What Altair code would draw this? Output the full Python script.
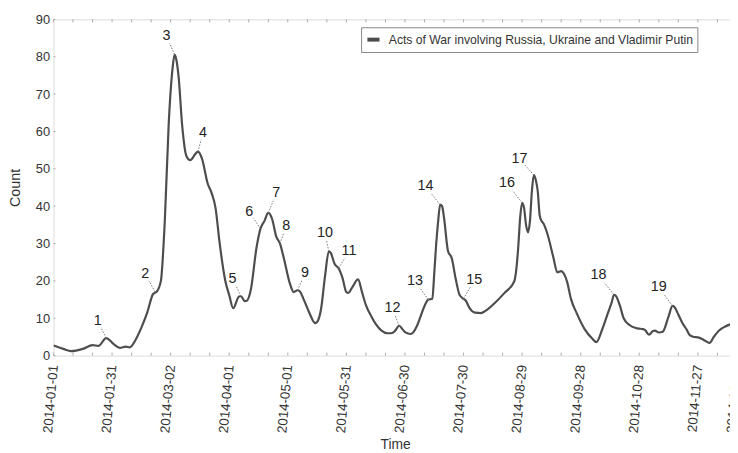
import altair as alt
import pandas as pd

# ---- data (day offsets from 2014-01-01, counts) ----
days = [0, 5, 9, 15, 20, 23, 27, 31, 34, 37, 39, 42, 45, 48, 51, 53, 55, 57, 59, 61,
        62, 63, 64, 66, 68, 70, 73, 74, 76, 79, 81, 83, 85, 88, 90, 92, 95, 96, 98, 99,
        101, 104, 106, 108, 110, 112, 114, 116, 118, 121, 123, 125, 126, 128, 131, 134, 135, 137, 139, 141,
        142, 144, 146, 148, 150, 151, 153, 156, 158, 160, 163, 165, 168, 171, 173, 175, 177, 179, 180, 183,
        186, 188, 190, 192, 194, 195, 196, 197, 198, 199, 200, 202, 204, 206, 208, 210, 211, 213, 216, 219,
        221, 226, 231, 236, 237, 238, 239, 240, 241, 242, 243, 244, 245, 246, 247, 248, 249, 250, 251, 253,
        256, 258, 260, 261, 263, 265, 268, 272, 276, 278, 281, 284, 286, 287, 288, 290, 292, 295, 299, 302,
        303, 305, 307, 308, 310, 312, 315, 317, 318, 320, 322, 324, 326, 328, 330, 333, 336, 338, 341, 344,
        348]
counts = [2.7, 1.8, 1.2, 1.8, 2.8, 2.6, 4.7, 3.0, 2.1, 2.4, 2.2, 4.2, 7.5, 11.5, 16.5, 17.2, 20, 36, 62, 77,
          80.6, 79, 75, 61, 53.5, 52.3, 54.2, 54.6, 52.8, 46, 43.5, 39.5, 30.5, 20, 16.2, 12.7, 15.8, 15.9, 14.6, 14.7,
          17.5, 29, 34, 36, 38.2, 36.5, 32, 30, 26, 19.4, 17, 17.5, 17.3, 15.2, 11.5, 8.7, 9, 12.4, 21, 27.9,
          27.5, 24.5, 23.4, 20.8, 17.0, 16.8, 18.3, 20.4, 17, 13.5, 10.3, 8.5, 6.7, 6.0, 6.0, 6.7, 8.0, 6.9, 6.3, 5.8,
          7.8, 10.5, 13.3, 15, 15.2, 22, 30, 36, 40.4, 40, 36.9, 28.1, 26, 20.5, 16.2, 15.2, 14.8, 12.8, 11.5, 11.4,
          11.9, 14.1, 16.8, 19.9, 23, 29, 37, 40.9, 39.5, 35, 33, 36, 44, 48.3, 47, 44, 37.5, 36, 35.3, 32.5,
          26.3, 22.3, 22.6, 22.2, 19.8, 15.2, 11.3, 7.1, 4.5, 3.6, 7.0, 11.5, 14.5, 16.3, 16.0, 13.5, 10, 8.2, 7.3, 7.1,
          6.8, 5.6, 6.6, 6.7, 6.2, 6.4, 10.5, 13.3, 13.0, 11, 8.8, 7.2, 5.4, 5.0, 4.9, 4.2, 3.4, 4.9, 6.8, 7.8,
          8.6]
series_name = "Acts of War involving Russia, Ukraine and Vladimir Putin"

# annotations: number, curve point (day, value), label centre (day, value)
ann_labels = [str(i) for i in range(1, 20)]
ann_point_days = [27, 52, 62, 74, 96, 106, 110, 116, 125, 141, 146, 177, 192, 198, 210, 240, 246, 287, 317]
ann_point_vals = [4.7, 17.1, 80.6, 54.6, 15.9, 34, 38.2, 30, 17.5, 27.9, 23.4, 8.0, 15, 40.4, 15.2, 40.9, 48.3, 16.3, 13.3]
ann_text_days = [22.6, 47, 57.9, 76.5, 91.7, 100.2, 114.1, 119.2, 128.8, 139, 151.3, 173.6, 185.1, 190.5, 215.5, 232.2, 238.6, 279.1, 310]
ann_text_vals = [9.3, 21.8, 85.5, 59.7, 20.6, 38.5, 43.4, 34.8, 22, 32.8, 27.9, 12.7, 19.9, 45.3, 20.2, 46.1, 52.7, 21.5, 18.3]

label_days = [0, 30, 60, 90, 120, 150, 180, 210, 240, 270, 300, 330, 350]
minor_tick_days = list(range(0, 351, 10))
y_ticks = [0, 10, 20, 30, 40, 50, 60, 70, 80, 90]

START = pd.Timestamp("2014-01-01")
END_DAY = 350
FMT = "%Y-%m-%dT%H:%M:%SZ"


def to_date(d):
    return (START + pd.Timedelta(days=d)).strftime(FMT)


def to_dt(d):
    t = START + pd.Timedelta(days=d)
    return alt.DateTime(year=t.year, month=t.month, date=t.day, utc=True)


W, H = 691, 340
FONT = "Liberation Sans"
FRAME = "#aaaaaa"
TXT = "#333333"

line_df = pd.DataFrame({"date": [to_date(d) for d in days], "count": counts, "series": series_name})

x_scale = alt.Scale(type="utc", domain=[to_dt(0), to_dt(END_DAY)])
y_scale = alt.Scale(domain=[0, 90], nice=False)

x_axis = alt.Axis(values=[to_dt(d) for d in label_days],
                  labelExpr="utcFormat(datum.value, '%Y-%m-%d')",
                  labelAngle=275, labelAlign="right", labelBaseline="middle", labelPadding=9,
                  labelFontSize=13.5, labelFont=FONT, labelColor=TXT, ticks=False, domain=False, grid=False,
                  title="Time", titleFontSize=14, titleFont=FONT, titleFontWeight="normal", titleColor=TXT,
                  titlePadding=5, labelOverlap=False, labelFlush=False)
y_axis = alt.Axis(values=y_ticks, labelFontSize=13, labelFont=FONT, labelColor=TXT, labelPadding=4,
                  labelOverlap=False, labelFlush=False,
                  ticks=False, domain=False, grid=False, title="Count", titleFontSize=14.5, titleFont=FONT,
                  titleFontWeight="normal", titleColor=TXT, titlePadding=13)

line = alt.Chart(line_df).mark_line(interpolate="monotone", strokeWidth=2.2, clip=True).encode(
    x=alt.X("date:T", scale=x_scale, axis=x_axis),
    y=alt.Y("count:Q", scale=y_scale, axis=y_axis),
    color=alt.Color("series:N", scale=alt.Scale(range=["#4d4d4d"]),
                    legend=alt.Legend(title=None, orient="none", legendX=311, legendY=8,
                                      strokeColor="#888888", fillColor="white", padding=4,
                                      symbolType="stroke", symbolStrokeWidth=4, symbolSize=150,
                                      labelOffset=7, labelFontSize=12.3, labelColor=TXT, labelLimit=500,
                                      labelFont=FONT)),
)

ann_df = pd.DataFrame({
    "label": ann_labels,
    "pdate": [to_date(d) for d in ann_point_days],
    "pval": ann_point_vals,
    "tdate": [to_date(d) for d in ann_text_days],
    "tval": ann_text_vals,
    "ldate": [to_date(p + 0.62 * (t - p)) for p, t in zip(ann_point_days, ann_text_days)],
    "lval": [p + 0.62 * (t - p) for p, t in zip(ann_point_vals, ann_text_vals)],
})

leaders = alt.Chart(ann_df).mark_rule(strokeDash=[1.5, 1.5], strokeWidth=1, color="#777777").encode(
    x=alt.X("pdate:T", scale=x_scale, axis=x_axis), y=alt.Y("pval:Q", scale=y_scale, axis=y_axis),
    x2="ldate:T", y2="lval:Q")

texts = alt.Chart(ann_df).mark_text(fontSize=14.5, color="#222222", font=FONT,
                                    align="center", baseline="middle").encode(
    x=alt.X("tdate:T", scale=x_scale, axis=x_axis), y=alt.Y("tval:Q", scale=y_scale, axis=y_axis),
    text="label:N")

tick_df = pd.DataFrame({"date": [to_date(d) for d in minor_tick_days]})
bottom_ticks = alt.Chart(tick_df).mark_rule(color=FRAME, strokeWidth=1).encode(
    x=alt.X("date:T", scale=x_scale, axis=x_axis), y=alt.value(H), y2=alt.value(H - 3))
top_ticks = alt.Chart(tick_df).mark_rule(color=FRAME, strokeWidth=1).encode(
    x=alt.X("date:T", scale=x_scale, axis=x_axis), y=alt.value(0), y2=alt.value(3))

ytick_df = pd.DataFrame({"v": y_ticks})
left_ticks = alt.Chart(ytick_df).mark_rule(color=FRAME, strokeWidth=1).encode(
    y=alt.Y("v:Q", scale=y_scale, axis=y_axis), x=alt.value(0), x2=alt.value(2))

chart = alt.layer(line, bottom_ticks, top_ticks, left_ticks, leaders, texts).properties(
    width=W, height=H,
    autosize=alt.AutoSizeParams(type="none"),
    padding={"left": 46, "top": 9, "right": -7, "bottom": 100},
).configure_view(stroke=FRAME, strokeWidth=1).configure(font=FONT, background="white")

chart.save("out.html", embed_options={"renderer": "svg", "actions": False})
